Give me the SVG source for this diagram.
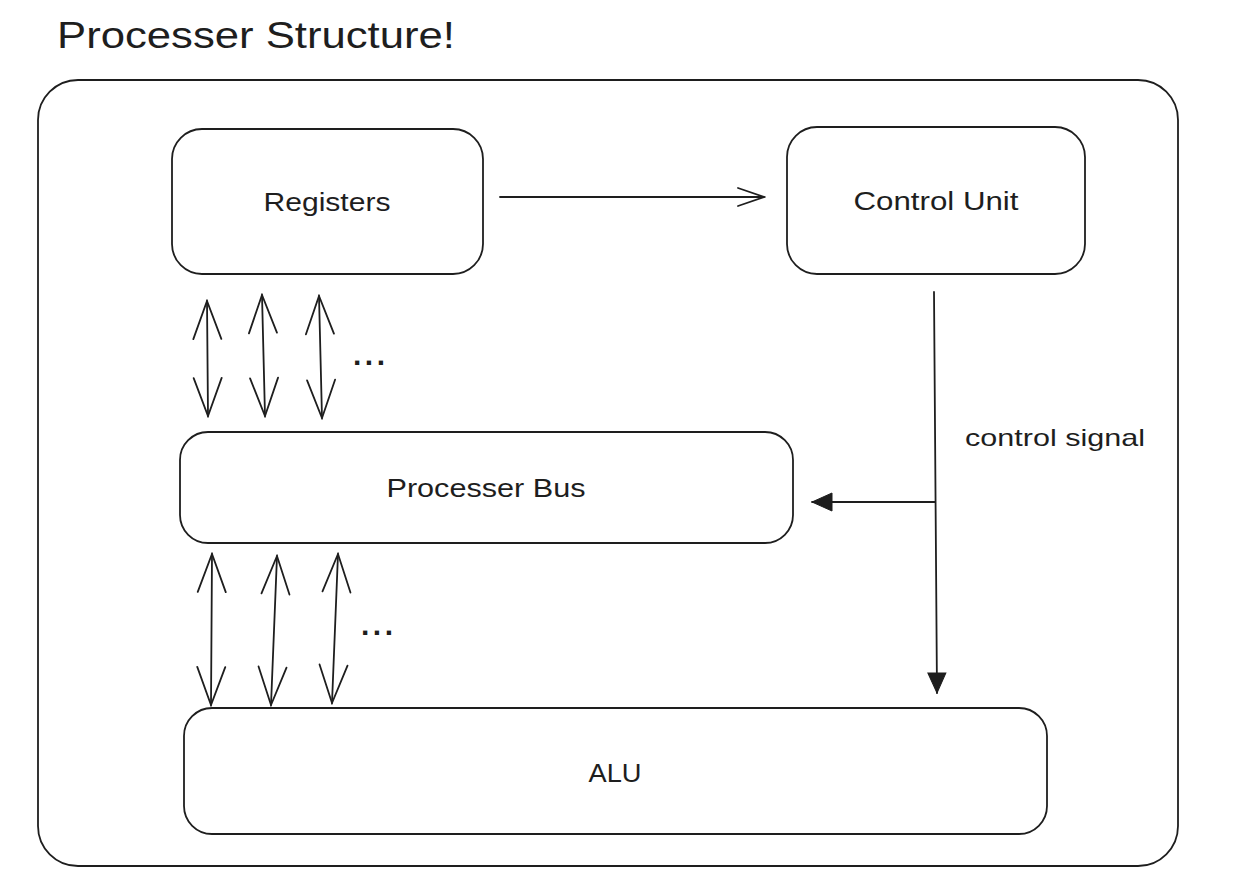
<svg xmlns="http://www.w3.org/2000/svg" width="1236" height="894" viewBox="0 0 1236 894">
<style>
.box{fill:none;stroke:#1e1e1e;stroke-width:1.8}
.ln{fill:none;stroke:#1e1e1e;stroke-width:1.8;stroke-linecap:round}
.t{font-family:"Liberation Sans",Arial,sans-serif;fill:#1e1e1e}
.lbl{font-size:25px;text-anchor:middle;dominant-baseline:central}
</style>
<defs>
<marker id="open" viewBox="0 0 42 32" refX="40" refY="16" markerWidth="42" markerHeight="32" markerUnits="userSpaceOnUse" orient="auto-start-reverse">
<path d="M2,2 L40,16 L2,30" fill="none" stroke="#1e1e1e" stroke-width="1.8" stroke-linecap="round"/>
</marker>
<marker id="openS" viewBox="0 0 30 24" refX="28" refY="12" markerWidth="30" markerHeight="24" markerUnits="userSpaceOnUse" orient="auto-start-reverse">
<path d="M2,3 L28,12 L2,21" fill="none" stroke="#1e1e1e" stroke-width="1.8" stroke-linecap="round"/>
</marker>
<marker id="tri" viewBox="0 0 22 20" refX="21" refY="10" markerWidth="22" markerHeight="20" markerUnits="userSpaceOnUse" orient="auto">
<path d="M1,1 L21,10 L1,19 Z" fill="#1e1e1e" stroke="#1e1e1e" stroke-width="1"/>
</marker>
</defs>
<rect width="1236" height="894" fill="#ffffff"/>
<text class="t" x="57" y="48" font-size="36" textLength="398" lengthAdjust="spacingAndGlyphs">Processer Structure!</text>
<g id="outer"><rect class="box" x="38" y="80" width="1140" height="786" rx="40"/></g>
<g id="registers"><rect class="box" x="172" y="129" width="311" height="145" rx="30"/><text class="t lbl" x="327" y="202" textLength="127" lengthAdjust="spacingAndGlyphs">Registers</text></g>
<g id="control-unit"><rect class="box" x="787" y="127" width="298" height="147" rx="30"/><text class="t lbl" x="936" y="201" textLength="165" lengthAdjust="spacingAndGlyphs">Control Unit</text></g>
<g id="processer-bus"><rect class="box" x="180" y="432" width="613" height="111" rx="28"/><text class="t lbl" x="486" y="488" textLength="199" lengthAdjust="spacingAndGlyphs">Processer Bus</text></g>
<g id="alu"><rect class="box" x="184" y="708" width="863" height="126" rx="28"/><text class="t lbl" x="615" y="773" textLength="53" lengthAdjust="spacingAndGlyphs">ALU</text></g>
<g id="connectors">
<line class="ln" x1="500" y1="197" x2="764" y2="197" marker-end="url(#openS)"/>
<line class="ln" x1="934" y1="292" x2="937" y2="693" marker-end="url(#tri)"/>
<line class="ln" x1="935" y1="502" x2="812" y2="502" marker-end="url(#tri)"/>
<line class="ln" x1="207" y1="301" x2="208" y2="416" marker-start="url(#open)" marker-end="url(#open)"/>
<line class="ln" x1="262" y1="295" x2="265" y2="416" marker-start="url(#open)" marker-end="url(#open)"/>
<line class="ln" x1="319" y1="296" x2="322" y2="418" marker-start="url(#open)" marker-end="url(#open)"/>
<line class="ln" x1="212" y1="554" x2="211" y2="705" marker-start="url(#open)" marker-end="url(#open)"/>
<line class="ln" x1="277" y1="556" x2="271" y2="705" marker-start="url(#open)" marker-end="url(#open)"/>
<line class="ln" x1="338" y1="554" x2="332" y2="703" marker-start="url(#open)" marker-end="url(#open)"/>
</g>
<text class="t" x="353" y="365" font-size="30" font-weight="bold" textLength="32" lengthAdjust="spacing">...</text>
<text class="t" x="361" y="635" font-size="30" font-weight="bold" textLength="32" lengthAdjust="spacing">...</text>
<text class="t" x="965" y="446" font-size="24" textLength="180" lengthAdjust="spacingAndGlyphs">control signal</text>
</svg>
